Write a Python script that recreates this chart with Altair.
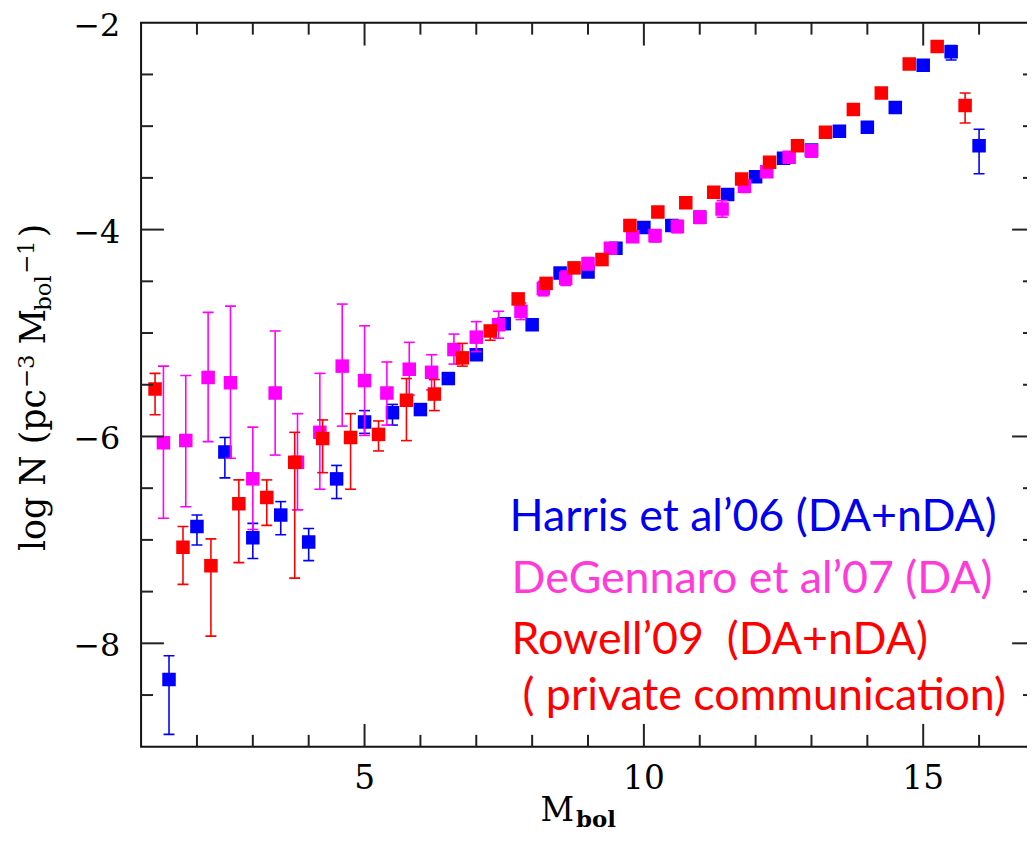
import altair as alt
import pandas as pd

# ---------------- data ----------------
harris_M = [1.5, 2.0, 2.5, 3.0, 3.5, 4.0, 4.5, 5.0, 5.5, 6.0, 6.5, 7.0, 7.5, 8.0, 8.5,
            9.0, 9.5, 10.0, 10.5, 11.0, 11.5, 12.0, 12.5, 13.0, 13.5, 14.0, 14.5, 15.0, 15.5, 16.0]
harris_logN = [-8.35, -6.87, -6.15, -6.98, -6.76, -7.02, -6.41, -5.86, -5.77, -5.74, -5.44, -5.21, -4.91, -4.92, -4.42,
               -4.41, -4.18, -3.98, -3.96, -3.88, -3.66, -3.49, -3.31, -3.23, -3.05, -3.01, -2.82, -2.41, -2.28, -3.19]
harris_up = [0.23, 0.11, 0.14, 0.14, 0.13, 0.13, 0.13, 0.11, 0.08, 0.05, 0.04, 0.03, 0.03, 0.03, 0.03,
             0.03, 0.02, 0.02, 0.02, 0.02, 0.02, 0.02, 0.02, 0.02, 0.02, 0.02, 0.02, 0.03, 0.06, 0.16]
harris_dn = [0.53, 0.18, 0.25, 0.20, 0.19, 0.18, 0.19, 0.11, 0.12, 0.05, 0.04, 0.03, 0.03, 0.03, 0.03,
             0.03, 0.02, 0.02, 0.02, 0.02, 0.02, 0.02, 0.02, 0.02, 0.02, 0.02, 0.02, 0.03, 0.08, 0.27]

degen_M = [1.4, 1.8, 2.2, 2.6, 3.0, 3.4, 3.8, 4.2, 4.6, 5.0, 5.4, 5.8, 6.2, 6.6, 7.0,
           7.4, 7.8, 8.2, 8.6, 9.0, 9.4, 9.8, 10.2, 10.6, 11.0, 11.4, 11.8, 12.2, 12.6, 13.0]
degen_logN = [-6.06, -6.04, -5.43, -5.48, -6.41, -5.58, -6.25, -5.96, -5.32, -5.46, -5.58, -5.35, -5.38, -5.16, -5.04,
              -4.92, -4.79, -4.57, -4.47, -4.33, -4.18, -4.07, -4.06, -3.97, -3.88, -3.80, -3.58, -3.44, -3.30, -3.24]
degen_up = [0.74, 0.63, 0.63, 0.74, 0.50, 0.60, 0.47, 0.57, 0.60, 0.53, 0.30, 0.26, 0.17, 0.15, 0.15,
            0.13, 0.08, 0.07, 0.07, 0.06, 0.05, 0.05, 0.06, 0.06, 0.06, 0.08, 0.06, 0.05, 0.05, 0.06]
degen_dn = [0.73, 0.64, 0.62, 0.73, 0.49, 0.60, 0.46, 0.55, 0.58, 0.53, 0.31, 0.25, 0.17, 0.14, 0.14,
            0.13, 0.08, 0.07, 0.07, 0.06, 0.05, 0.05, 0.06, 0.06, 0.06, 0.08, 0.06, 0.05, 0.05, 0.06]

rowell_M = [1.25, 1.75, 2.25, 2.75, 3.25, 3.75, 4.25, 4.75, 5.25, 5.75, 6.25, 6.75, 7.25, 7.75, 8.25,
            8.75, 9.25, 9.75, 10.25, 10.75, 11.25, 11.75, 12.25, 12.75, 13.25, 13.75, 14.25, 14.75, 15.25, 15.75]
rowell_logN = [-5.54, -7.07, -7.25, -6.65, -6.59, -6.25, -6.02, -6.01, -5.98, -5.65, -5.59, -5.24, -4.98, -4.67, -4.52,
               -4.37, -4.29, -3.96, -3.83, -3.74, -3.64, -3.51, -3.35, -3.19, -3.06, -2.84, -2.68, -2.40, -2.23, -2.80]
rowell_up = [0.15, 0.20, 0.26, 0.23, 0.17, 0.29, 0.18, 0.23, 0.13, 0.21, 0.14, 0.14, 0.05, 0.03, 0.03,
             0.03, 0.03, 0.03, 0.02, 0.02, 0.02, 0.02, 0.02, 0.02, 0.02, 0.02, 0.02, 0.02, 0.02, 0.12]
rowell_dn = [0.25, 0.36, 0.68, 0.57, 0.27, 1.12, 0.33, 0.50, 0.16, 0.39, 0.16, 0.08, 0.09, 0.03, 0.03,
             0.03, 0.03, 0.03, 0.02, 0.02, 0.02, 0.02, 0.02, 0.02, 0.02, 0.02, 0.02, 0.02, 0.02, 0.17]

series_names = ["Harris", "DeGennaro", "Rowell"]
series_colors = ["#0000FF", "#FF00FF", "#FF0000"]

x_major_ticks = [5, 10, 15]
x_minor_ticks = [2, 3, 4, 6, 7, 8, 9, 11, 12, 13, 14, 16]
y_major_ticks = [-8, -6, -4]
y_minor_ticks = [-8.5, -7.5, -7, -6.5, -5.5, -5, -4.5, -3.5, -3, -2.5]
x_labels = [5, 10, 15]
y_labels = [-8, -6, -4, -2]

legend_lines = ["Harris et al\u201906 (DA+nDA)",
                "DeGennaro et al\u201907 (DA)",
                "Rowell\u201909 \u00a0(DA+nDA)",
                "( private communication)"]
legend_colors = ["#0000EE", "#FF3AD8", "#FF0000", "#FF0000"]

# ---------------- layout constants ----------------
# plot area: x from 1 (left frame); the right frame (x = 17) lies just beyond the picture edge
W, H = 892, 729
PX_PER_UNIT = 56.25
X_MAX = 1 + W / PX_PER_UNIT
RIGHT_OFF = 8          # right frame sits this far beyond the visible edge
SERIF = "DejaVu Serif"
MAJ, MIN = 23, 12
TICK_COLOR = "#222222"
FRAME_COLOR = "#111111"

xs = alt.Scale(domain=[1, X_MAX], nice=False, zero=False)
ys = alt.Scale(domain=[-9, -2], nice=False, zero=False)
cs = alt.Scale(domain=series_names, range=series_colors)


def make_df(name, M, v, up, dn):
    return pd.DataFrame({
        "series": name,
        "M": M,
        "logN": v,
        "hi": [a + b for a, b in zip(v, up)],
        "lo": [a - b for a, b in zip(v, dn)],
    })


frames = [
    make_df("Harris", harris_M, harris_logN, harris_up, harris_dn),
    make_df("DeGennaro", degen_M, degen_logN, degen_up, degen_dn),
    make_df("Rowell", rowell_M, rowell_logN, rowell_up, rowell_dn),
]

layers = []
for df in frames:
    base = alt.Chart(df)
    color = alt.Color("series:N", scale=cs, legend=None)
    X = alt.X("M:Q", scale=xs, axis=None)
    bars = base.mark_rule(strokeWidth=1.6, clip=True).encode(
        x=X, y=alt.Y("lo:Q", scale=ys, axis=None), y2="hi:Q", color=color)
    cap_lo = base.mark_tick(orient="horizontal", size=11, thickness=1.6, clip=True, opacity=1).encode(
        x=X, y=alt.Y("lo:Q", scale=ys, axis=None), color=color)
    cap_hi = base.mark_tick(orient="horizontal", size=11, thickness=1.6, clip=True, opacity=1).encode(
        x=X, y=alt.Y("hi:Q", scale=ys, axis=None), color=color)
    squares = base.mark_square(size=185, opacity=1, strokeWidth=0, clip=True).encode(
        x=X, y=alt.Y("logN:Q", scale=ys, axis=None), color=color)
    layers += [bars, cap_lo, cap_hi, squares]


# ---------------- frame (left, top, bottom) ----------------
frame_df = pd.DataFrame({"k": [0]})
layers += [
    alt.Chart(frame_df).mark_rule(color=FRAME_COLOR, strokeWidth=2).encode(
        x=alt.value(0), y=alt.value(0), y2=alt.value(H)),
    alt.Chart(frame_df).mark_rule(color=FRAME_COLOR, strokeWidth=2).encode(
        x=alt.value(-1), x2=alt.value(W), y=alt.value(0)),
    alt.Chart(frame_df).mark_rule(color=FRAME_COLOR, strokeWidth=2).encode(
        x=alt.value(-1), x2=alt.value(W), y=alt.value(H)),
]


# ---------------- inward frame ticks ----------------
def xticks(vals, length, bottom=True, width=2):
    d = pd.DataFrame({"t": vals})
    if bottom:
        yy, yy2 = alt.value(H - length), alt.value(H)
    else:
        yy, yy2 = alt.value(0), alt.value(length)
    return alt.Chart(d).mark_rule(color=TICK_COLOR, strokeWidth=width).encode(
        x=alt.X("t:Q", scale=xs, axis=None), y=yy, y2=yy2)


def yticks(vals, length, left=True, width=2):
    d = pd.DataFrame({"t": vals})
    if left:
        xx, xx2 = alt.value(0), alt.value(length)
    else:
        xx, xx2 = alt.value(W + RIGHT_OFF - length), alt.value(W)
    return alt.Chart(d).mark_rule(color=TICK_COLOR, strokeWidth=width).encode(
        y=alt.Y("t:Q", scale=ys, axis=None), x=xx, x2=xx2)


layers += [
    xticks(x_major_ticks, MAJ, True), xticks(x_minor_ticks, MIN, True),
    xticks(x_major_ticks, MAJ, False), xticks(x_minor_ticks, MIN, False),
    yticks(y_major_ticks, MAJ, True), yticks(y_minor_ticks, MIN, True),
    yticks(y_major_ticks, MAJ, False), yticks(y_minor_ticks, MIN, False),
]


# ---------------- tick labels (through the scales) ----------------
def fmt(v):
    return ("\u2212" if v < 0 else "") + str(abs(int(v)))


xl = pd.DataFrame({"t": x_labels, "s": [fmt(v) for v in x_labels]})
yl = pd.DataFrame({"t": y_labels, "s": [fmt(v) for v in y_labels]})
layers.append(
    alt.Chart(xl).mark_text(font=SERIF, fontSize=33, align="center", baseline="alphabetic", color="#000").encode(
        x=alt.X("t:Q", scale=xs, axis=None), y=alt.value(H + 43), text="s:N"))
layers.append(
    alt.Chart(yl).mark_text(font=SERIF, fontSize=32, align="right", baseline="middle", dy=3, color="#000").encode(
        y=alt.Y("t:Q", scale=ys, axis=None), x=alt.value(-21), text="s:N"))


# ---------------- text annotations ----------------
def text(txt, x, y, size, color="#000000", font=SERIF, align="left", angle=0, weight="normal"):
    d = pd.DataFrame({"label": [txt]})
    kw = dict(align=align, baseline="alphabetic", font=font, fontSize=size, color=color, fontWeight=weight)
    if angle:
        kw["angle"] = angle
    return alt.Chart(d).mark_text(**kw).encode(text="label:N", x=alt.value(x), y=alt.value(y))


# x title: M_bol
layers += [
    text("M", 436, 804, 33, align="right"),
    text("bol", 438, 810, 23, weight="bold"),
]

# y title: log N (pc^-3 M_bol^-1), rotated
TX = -97
layers += [
    text("log N (pc", TX, 532, 35, angle=270),
    text("\u22123", TX - 11, 368, 23, angle=270),
    text("M", TX, 324, 35, angle=270),
    text("bol", TX + 6, 290, 23, angle=270),
    text("\u22121", TX - 11, 253, 23, angle=270),
    text(")", TX, 216, 35, angle=270),
]

# legend text
leg_x = [371, 373, 373, 384]
leg_y = [512, 574, 636, 692]
for t, c, lx, ly in zip(legend_lines, legend_colors, leg_x, leg_y):
    layers.append(text(t, lx, ly, 45, color=c, font="Lato"))

chart = alt.layer(*layers).properties(
    width=W, height=H,
    autosize=alt.AutoSizeParams(type="none"),
    padding={"left": 134, "top": 12, "right": 0, "bottom": 84},
    background="white",
).configure_view(strokeWidth=0)

chart.save("out.html", embed_options={"renderer": "svg", "actions": False})
